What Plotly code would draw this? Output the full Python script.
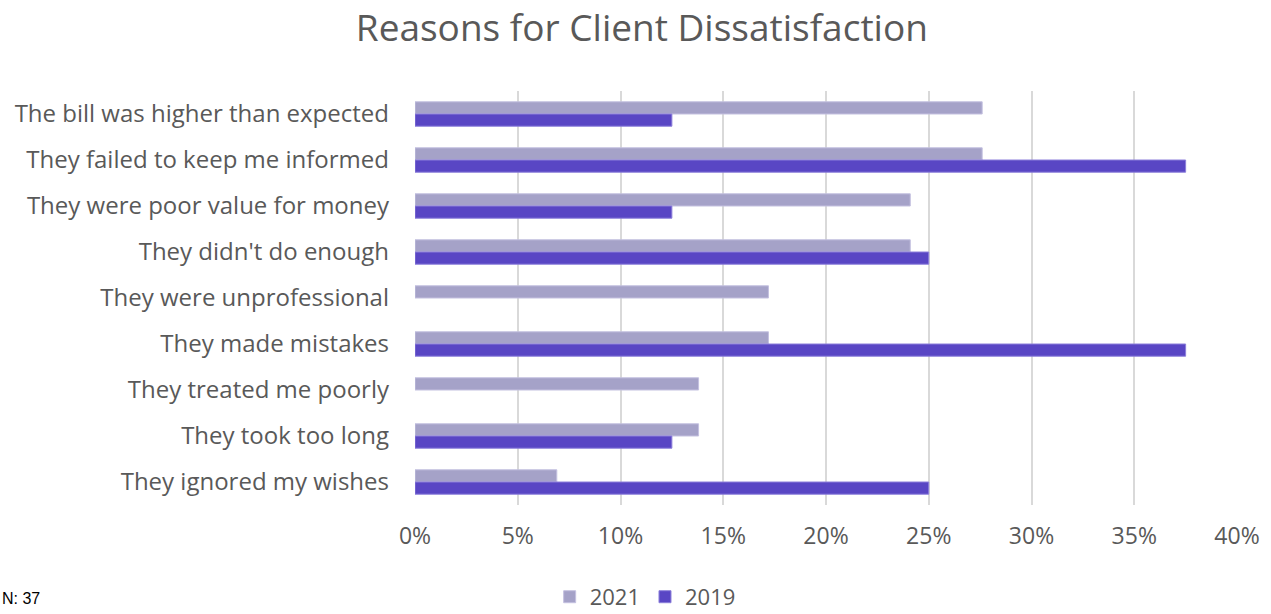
import plotly.graph_objects as go

categories = [
    "The bill was higher than expected",
    "They failed to keep me informed",
    "They were poor value for money",
    "They didn't do enough",
    "They were unprofessional",
    "They made mistakes",
    "They treated me poorly",
    "They took too long",
    "They ignored my wishes",
]
values_2021 = [0.276, 0.276, 0.241, 0.241, 0.172, 0.172, 0.138, 0.138, 0.069]
values_2019 = [0.125, 0.375, 0.125, 0.25, 0.0, 0.375, 0.0, 0.125, 0.25]
tick_vals = [0, 0.05, 0.10, 0.15, 0.20, 0.25, 0.30, 0.35, 0.40]
tick_text = ["0%", "5%", "10%", "15%", "20%", "25%", "30%", "35%", "40%"]

FONT = "'Open Sans', Lato, sans-serif"
GREY = "#595959"


def outline(vals):
    return [1 if v > 0 else 0 for v in vals]


fig = go.Figure()
fig.add_trace(go.Bar(
    y=categories, x=values_2021, name="2021", orientation="h",
    marker=dict(color="#A5A2C8", line=dict(color="#C4C1E0", width=outline(values_2021))),
))
fig.add_trace(go.Bar(
    y=categories, x=values_2019, name="2019", orientation="h",
    marker=dict(color="#5946C4", line=dict(color="#8C7FDA", width=outline(values_2019))),
))

fig.update_layout(
    width=1271, height=614,
    paper_bgcolor="white", plot_bgcolor="white",
    margin=dict(l=415, r=34, t=91, b=109, autoexpand=False),
    barmode="group", bargap=0.47, bargroupgap=0.0,
    title=dict(text="Reasons for Client Dissatisfaction", x=0.505, xanchor="center",
               y=0.954, yanchor="middle",
               font=dict(family=FONT, size=37, color=GREY)),
    font=dict(family=FONT, color=GREY),
    xaxis=dict(range=[0, 0.40], tickvals=tick_vals, ticktext=tick_text,
               showgrid=True, gridcolor="#D9D9D9", gridwidth=1.5,
               zeroline=False, showline=False, ticks="",
               ticklabelstandoff=15,
               tickfont=dict(family=FONT, size=23, color=GREY)),
    yaxis=dict(autorange="reversed", showgrid=False, showline=False, ticks="",
               ticklabelstandoff=25,
               tickfont=dict(family=FONT, size=24, color=GREY)),
    legend=dict(orientation="h", x=0.28, xanchor="center", y=-0.222, yanchor="middle",
                font=dict(family=FONT, size=22, color=GREY), traceorder="normal"),
    annotations=[dict(text="N: 37", xref="paper", yref="paper", x=-415/822, xanchor="left",
                      y=-0.225, yanchor="middle", showarrow=False,
                      font=dict(family="Liberation Sans, Arial", size=16, color="#000000"))],
)

fig.write_html("out.html")
